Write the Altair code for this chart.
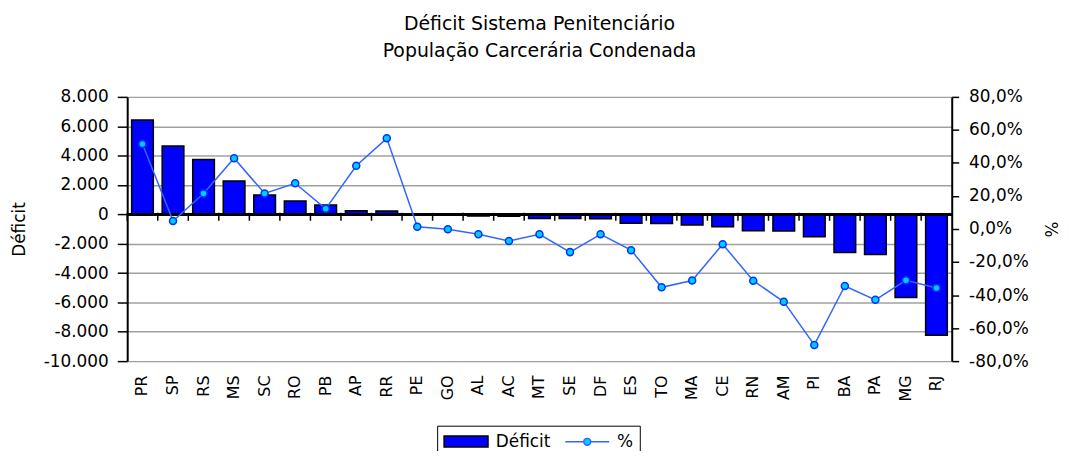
import altair as alt
import pandas as pd

estados = ['PR', 'SP', 'RS', 'MS', 'SC', 'RO', 'PB', 'AP', 'RR', 'PE', 'GO', 'AL', 'AC', 'MT',
           'SE', 'DF', 'ES', 'TO', 'MA', 'CE', 'RN', 'AM', 'PI', 'BA', 'PA', 'MG', 'RJ']
deficit = [6420, 4660, 3730, 2270, 1320, 910, 640, 240, 230, -10, -30, -120, -130, -290,
           -290, -300, -600, -620, -730, -850, -1120, -1130, -1520, -2600, -2740, -5670, -8240]
percentual = [51.5, 4.8, 21.5, 42.9, 21.5, 27.7, 12.2, 38.3, 54.9, 1.4, -0.2, -3.2, -7.2, -3.2,
              -14.0, -3.2, -12.8, -35.3, -31.2, -9.2, -31.3, -44.1, -70.2, -34.5, -42.9, -31.1, -35.7]
left_ticks = [-10000, -8000, -6000, -4000, -2000, 0, 2000, 4000, 6000, 8000]
right_ticks = [-0.8, -0.6, -0.4, -0.2, 0.0, 0.2, 0.4, 0.6, 0.8]
series = ['Déficit', '%']
titulo = ['Déficit Sistema Penitenciário', 'População Carcerária Condenada']

df = pd.DataFrame({'UF': estados, 'Deficit': deficit, 'Pct': [p / 100 for p in percentual],
                   'Serie': series[0]})

FONT = 'DejaVu Sans'
x_scale = alt.Scale(paddingInner=0.29, paddingOuter=0.145)
x_cells = alt.Scale(paddingInner=0, paddingOuter=0)
y_left = alt.Scale(domain=[-10000, 8000], nice=False, zero=False)
y_right = alt.Scale(domain=[-0.8, 0.8], nice=False, zero=False)

left_fmt = "(datum.value < 0 ? '-' : '') + replace(format(abs(datum.value), ','), ',', '.')"
right_fmt = "(datum.value < 0 ? '-' : '') + replace(format(abs(datum.value), '.1%'), '.', ',')"

# legend swatches: a wide bar and a line with a circle, extending to the right of the symbol box
rect_path = 'M-1,-0.65H4.2V0.65H-1Z'
line_path = ('M-1,0H1.19M2.01,0H4.2M1.19,0A0.41,0.41 0 1 1 2.01,0'
             'A0.41,0.41 0 1 1 1.19,0Z')

legend = alt.Legend(
    title=None, orient='none', legendX=312, legendY=331, direction='horizontal',
    strokeColor='black', fillColor='white', padding=6,
    labelFont=FONT, labelFontSize=17, labelColor='black', labelOffset=34,
    columnPadding=12, symbolSize=289, symbolStrokeWidth=1.5,
    symbolType={'expr': "datum.value === '%' ? '" + line_path + "' : '" + rect_path + "'"},
    symbolStrokeColor={'expr': "datum.value === '%' ? '#3366FF' : 'black'"},
)

bars = alt.Chart(df).mark_bar(stroke='black', strokeWidth=1.5).encode(
    x=alt.X('UF:N', sort=estados, scale=x_scale,
            axis=alt.Axis(title=None, labelAngle=270, ticks=False, domain=False, grid=False,
                          labelFont=FONT, labelFontSize=16, labelColor='black', labelPadding=14)),
    y=alt.Y('Deficit:Q', scale=y_left,
            axis=alt.Axis(title='Déficit', values=left_ticks, labelExpr=left_fmt,
                          grid=True, gridColor='#a0a0a0', gridWidth=1.5,
                          domainColor='black', domainWidth=2, tickColor='black', tickSize=10,
                          tickWidth=1.5, labelFont=FONT, labelFontSize=17, labelColor='black',
                          labelPadding=9, titleFont=FONT, titleFontSize=17,
                          titleFontWeight='normal', titleColor='black', titlePadding=15)),
    color=alt.Color('Serie:N', scale=alt.Scale(domain=series, range=['#0000FF', '#00CCFF']),
                    legend=legend),
)

zero = alt.Chart(df).mark_rule(color='black', strokeWidth=2).encode(
    y=alt.Y(datum=0, scale=y_left, axis=None),
)

ticks = alt.Chart(df).mark_rule(color='black', strokeWidth=1.5).encode(
    x=alt.X('UF:N', sort=estados, scale=x_cells, bandPosition=0, axis=None),
    y=alt.Y(datum=100, scale=y_left, axis=None),
    y2=alt.Y2(datum=-440),
)

line = alt.Chart(df).mark_line(
    color='#3366FF', strokeWidth=1.5,
    point=alt.OverlayMarkDef(filled=True, fill='#00CCFF', stroke='#0033FF', strokeWidth=1.5,
                             size=50, shape='circle'),
).encode(
    x=alt.X('UF:N', sort=estados, scale=x_scale, axis=None),
    y=alt.Y('Pct:Q', scale=y_right,
            axis=alt.Axis(orient='right', title='%', values=right_ticks, labelExpr=right_fmt,
                          grid=False, domainColor='black', domainWidth=2, tickColor='black',
                          tickSize=7, tickWidth=1.5, labelFont=FONT, labelFontSize=17,
                          labelColor='black', labelPadding=10, titleFont=FONT, titleFontSize=17,
                          titleFontWeight='normal', titleColor='black', titlePadding=12)),
)

chart = alt.layer(bars, zero, ticks, line).resolve_scale(
    x='independent', y='independent'
).properties(
    width=830, height=266,
    padding={'left': 120, 'top': 88, 'right': 110, 'bottom': 89},
    autosize=alt.AutoSizeParams(type='none'),
    background='white',
    title=alt.TitleParams(text=titulo, font=FONT, fontSize=19, fontWeight='normal', color='black',
                          lineHeight=27, anchor='middle', offset=27),
).configure_view(strokeWidth=0)

chart.save('out.html', embed_options={'renderer': 'svg', 'actions': False})
